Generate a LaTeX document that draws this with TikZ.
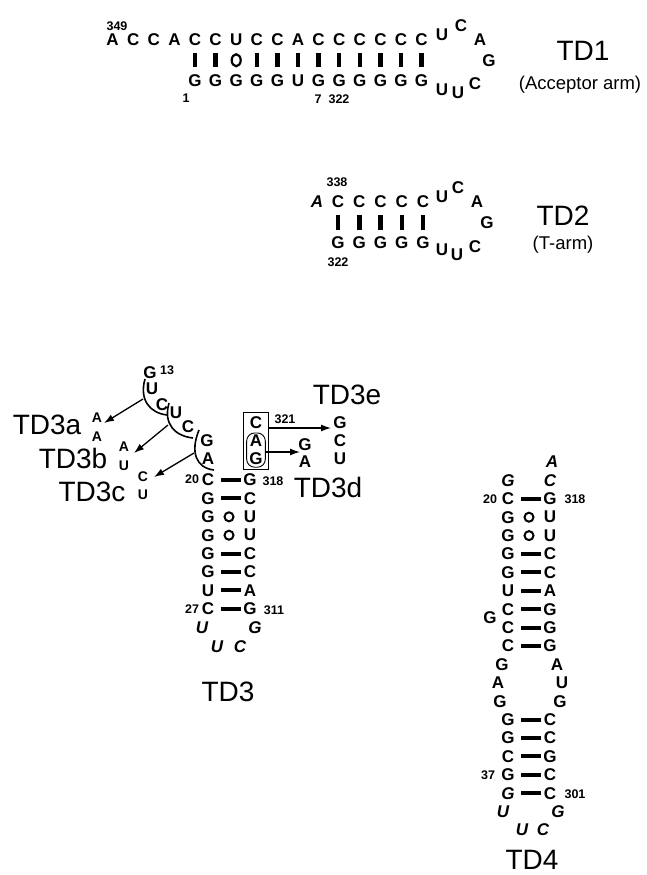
\documentclass[tikz,border=0pt]{standalone}
\usepackage{fontspec}
\setmainfont{Liberation Sans}
\usetikzlibrary{arrows.meta,fit,shapes.geometric}
\tikzset{
 nt/.style={inner sep=0pt, font=\fontsize{17}{17}\selectfont\bfseries},
 nti/.style={inner sep=0pt, font=\fontsize{17}{17}\selectfont\bfseries\itshape},
 nts/.style={inner sep=0pt, font=\fontsize{14}{14}\selectfont\bfseries},
 num/.style={inner sep=0pt, font=\fontsize{12.5}{12.5}\selectfont\bfseries},
 lab/.style={inner sep=0pt, font=\fontsize{28}{28}\selectfont},
 sublab/.style={inner sep=0pt, font=\fontsize{18.5}{18.5}\selectfont},
 vbar/.style={line width=4.5pt, shorten <=13pt, shorten >=13pt},
 hbar/.style={line width=4pt, shorten <=13pt, shorten >=9pt},
 wob/.style={circle, draw, line width=2pt, minimum size=9pt, inner sep=0pt},
 wobv/.style={ellipse, draw, line width=2.2pt, minimum width=9pt, minimum height=12pt, inner sep=0pt},
 arr/.style={line width=1.3pt, -{Latex[length=10pt,width=7pt]}},
 arcl/.style={line width=1.6pt},
 boxl/.style={draw, line width=0.9pt},
}
\begin{document}
\begin{tikzpicture}[x=1pt,y=-1pt]
\useasboundingbox (0,0) rectangle (647,875);
% ---------------- TD1 ----------------
\foreach \l [count=\i from 0] in {A,C,C,A,C,C,U,C,C,A,C,C,C,C,C,C}
  \node[nt] (t\i) at ({112.6+20.6*\i},40) {\l};
\foreach \l [count=\i from 4] in {G,G,G,G,G,U,G,G,G,G,G,G}
  \node[nt] (b\i) at ({112.6+20.6*\i},80.5) {\l};
\foreach \i in {4,5,7,8,9,10,11,12,13,14,15}
  \draw[vbar] (t\i.center) -- (b\i.center);
\path (t6.center) -- node[wobv]{} (b6.center);
\node[nt] (la1) at (442,35) {U};
\node[nt] (la2) at (461,26) {C};
\node[nt] (la3) at (480,40) {A};
\node[nt] (la4) at (489,61) {G};
\node[nt] (la5) at (475,83.5) {C};
\node[nt] (la6) at (458,93) {U};
\node[nt] (la7) at (442,90) {U};
\node[num] (n349) at (117,26) {349};
\node[num] (n1) at (186,98) {1};
\node[num] (n7) at (318,99) {7};
\node[num] (n322a) at (339,99) {322};
\node[lab] (td1) at (583,51) {TD1};
\node[sublab] (td1s) at (580,85) {(Acceptor arm)};
% ---------------- TD2 ----------------
\node[nti] (s0) at (317,202) {A};
\foreach \i in {1,...,5} {
  \node[nt] (s\i) at ({316.75+21.25*\i},202) {C};
  \node[nt] (r\i) at ({316.75+21.25*\i},243) {G};
  \draw[vbar] (s\i.center) -- (r\i.center);
}
\node[nt] (lb1) at (442,197) {U};
\node[nt] (lb2) at (458,188) {C};
\node[nt] (lb3) at (477,202) {A};
\node[nt] (lb4) at (487,223) {G};
\node[nt] (lb5) at (475,247) {C};
\node[nt] (lb6) at (457,255) {U};
\node[nt] (lb7) at (442,250) {U};
\node[num] (n338) at (337,182) {338};
\node[num] (n322b) at (338,262) {322};
\node[lab] (td2) at (563,216) {TD2};
\node[sublab] (td2s) at (563,245) {(T-arm)};
% ---------------- TD3 ----------------
\foreach \a/\b [count=\j from 0] in {C/G,G/C,G/U,G/U,G/C,G/C,U/A,C/G} {
  \node[nt] (p\j) at (208,{480+18.4*\j}) {\a};
  \node[nt] (q\j) at (250,{480+18.4*\j}) {\b};
}
\foreach \j in {0,1,4,5,6,7} \draw[hbar] (p\j.center) -- (q\j.center);
\foreach \j in {2,3} \path (p\j.center) -- node[wob]{} (q\j.center);
\node[num] (n20a) at (192,479) {20};
\node[num] (n318a) at (273,481) {318};
\node[num] (n27) at (192,609) {27};
\node[num] (n311) at (274,610) {311};
\node[nti] (h1) at (202,628) {U};
\node[nti] (h2) at (255,628) {G};
\node[nti] (h3) at (217,647) {U};
\node[nti] (h4) at (240,647) {C};
\node[lab] (td3) at (228,692) {TD3};
% 5' side backbone
\node[nt] (g13) at (150,373) {G};
\node[num] (n13) at (167,370) {13};
\node[nt] (u1) at (152,389) {U};
\node[nt] (c1) at (162,405) {C};
\node[nt] (u2) at (176,413) {U};
\node[nt] (c2) at (188,427) {C};
\node[nt] (g3) at (207,441) {G};
\node[nt] (a3) at (208,459) {A};
% brackets
\coordinate (k1s) at (145,379); \coordinate (k1e) at (167,415); \coordinate (k1m) at (143,399);
\coordinate (k2s) at (169,403); \coordinate (k2e) at (193,438); \coordinate (k2m) at (168,425);
\coordinate (k3s) at (199,430); \coordinate (k3e) at (214,470); \coordinate (k3m) at (194,453);
\draw[arcl] (k1s) .. controls (139,400) and (150,413) .. (k1e);
\draw[arcl] (k2s) .. controls (163,424) and (175,436) .. (k2e);
\draw[arcl] (k3s) .. controls (190,452) and (196,468) .. (k3e);
% TD3a-c
\node[nts] (xa1) at (97,418) {A};
\node[nts] (xa2) at (97,437) {A};
\node[nts] (xb1) at (124,447) {A};
\node[nts] (xb2) at (124,466) {U};
\node[nts] (xc1) at (143,477) {C};
\node[nts] (xc2) at (143,495) {U};
\coordinate (k1t) at (104,423);
\coordinate (k2t) at (134,453);
\coordinate (k3t) at (154,477);
\draw[arr] (k1m) -- (k1t);
\draw[arr] (k2m) -- (k2t);
\draw[arr] (k3m) -- (k3t);
\node[lab] (td3a) at (47,425) {TD3a};
\node[lab] (td3b) at (73,458) {TD3b};
\node[lab] (td3c) at (92,492) {TD3c};
% boxed CAG
\node[nt] (bxC) at (256,423) {C};
\node[nt] (bxA) at (256,441) {A};
\node[nt] (bxG) at (256,459) {G};
\node[boxl, fit=(bxC)(bxG), inner xsep=6pt, inner ysep=4.5pt] (box) {};
\node[boxl, rounded corners=8pt, fit=(bxA)(bxG), inner xsep=2.5pt, inner ysep=2pt] (stad) {};
\node[num] (n321) at (285,419) {321};
\node[nt] (eG) at (340,423) {G};
\node[nt] (eC) at (340,441) {C};
\node[nt] (eU) at (340,459) {U};
\node[nt] (dG) at (305,445) {G};
\node[nt] (dA) at (305,462) {A};
\coordinate (eT) at (331,428);
\coordinate (dT) at (300,452);
\draw[arr] (box.east |- eT) -- (eT);
\draw[arr] (stad.east |- dT) -- (dT);
\node[lab] (td3e) at (347,395) {TD3e};
\node[lab] (td3d) at (328,487) {TD3d};
% ---------------- TD4 ----------------
\node[nti] (w0) at (552,462) {A};
\node[nti] (wl1) at (508,480.4) {G};
\node[nti] (wr1) at (550,480.4) {C};
\foreach \a/\b [count=\k from 2] in {C/G,G/U,G/U,G/C,G/C,U/A,C/G,C/G,C/G} {
  \node[nt] (vl\k) at (508,{462+18.4*\k}) {\a};
  \node[nt] (vr\k) at (550,{462+18.4*\k}) {\b};
}
\foreach \a/\b [count=\k from 14] in {G/C,G/C,C/G,G/C} {
  \node[nt] (vl\k) at (508,{462+18.4*\k}) {\a};
  \node[nt] (vr\k) at (550,{462+18.4*\k}) {\b};
}
\node[nti] (vl18) at (508,793.2) {G};
\node[nt] (vr18) at (550,793.2) {C};
\foreach \k in {2,5,6,7,8,9,10,14,15,16,17,18} \draw[hbar] (vl\k.center) -- (vr\k.center);
\foreach \k in {3,4} \path (vl\k.center) -- node[wob]{} (vr\k.center);
\node[nt] (bulge) at (490,618) {G};
\node[nt] (il1) at (502,664.4) {G};
\node[nt] (il2) at (498,682.8) {A};
\node[nt] (il3) at (500,701.2) {G};
\node[nt] (ir1) at (557,664.4) {A};
\node[nt] (ir2) at (562,682.8) {U};
\node[nt] (ir3) at (560,701.2) {G};
\node[nti] (m1) at (503,811.6) {U};
\node[nti] (m2) at (558,811.6) {G};
\node[nti] (m3) at (522,830) {U};
\node[nti] (m4) at (543,830) {C};
\node[num] (n20b) at (490,499) {20};
\node[num] (n318b) at (575,499) {318};
\node[num] (n37) at (488,775) {37};
\node[num] (n301) at (575,794) {301};
\node[lab] (td4) at (532,860) {TD4};
\end{tikzpicture}
\end{document}
